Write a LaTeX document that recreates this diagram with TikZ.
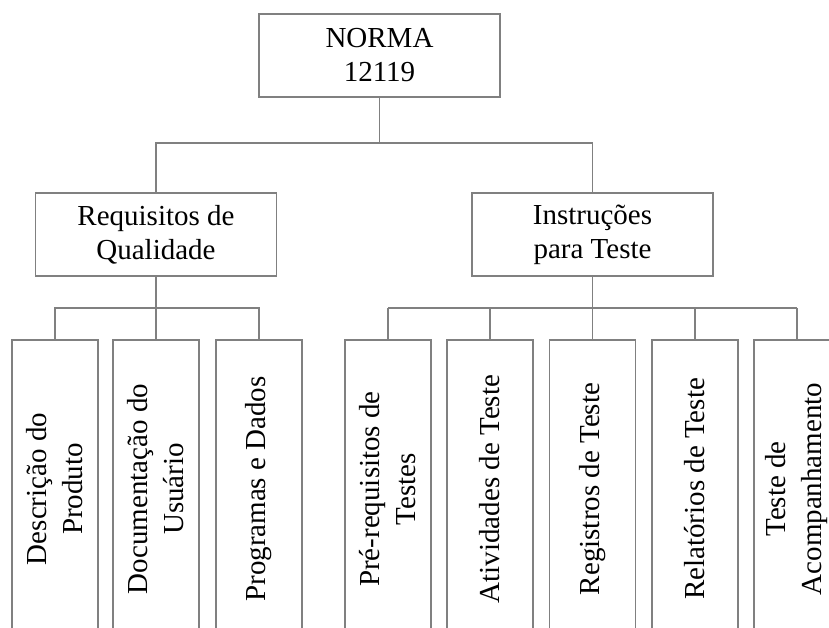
\documentclass[tikz,border=0pt]{standalone}
\usepackage{fontspec}
\setmainfont{Liberation Serif}
\definecolor{linha}{RGB}{128,128,128}
\tikzset{
    caixa/.style={draw=linha, line width=1.4pt, fill=white, minimum width=241pt, minimum height=83pt,
        inner sep=0pt, align=center, font=\fontsize{29}{34}\selectfont},
    folha/.style={draw=linha, line width=1.4pt, fill=white, rotate=90, minimum width=298pt, minimum height=86pt,
        inner sep=0pt, align=center, font=\fontsize{29}{36}\selectfont},
    liga/.style={draw=linha, line width=1.4pt}
}
\begin{document}
\begin{tikzpicture}[x=1pt,y=-1pt]
        \useasboundingbox (0,0) rectangle (829,628);
        \clip (0,0) rectangle (829,628);

        \node[caixa] (norma) at (379.5,55.5) {NORMA\\12119};
        \node[caixa] (req) at (156,234.5) {Requisitos de\\Qualidade};
        \node[caixa] (inst) at (592.5,234.5) {Instruções\\para Teste};

        \node[folha] (d1) at (55,489) {Descrição do\\Produto};
        \node[folha] (d2) at (156,489) {Documentação do\\Usuário};
        \node[folha] (d3) at (259,489) {Programas e Dados};

        \node[folha] (t1) at (388,489) {Pré-requisitos de\\Testes};
        \node[folha] (t2) at (490,489) {Atividades de Teste};
        \node[folha] (t3) at (592.5,489) {Registros de Teste};
        \node[folha] (t4) at (695,489) {Relatórios de Teste};
        \node[folha] (t5) at (797,489) {Teste de\\Acompanhamento};

        % barras de ligacao
        \coordinate (barraN) at (379.5,143);
        \coordinate (barraR) at (156,308);
        \coordinate (barraI) at (592.5,308);

        \draw[liga] (norma.south) -- (barraN);
        \draw[liga] (req.north) |- (barraN) -| (inst.north);

        \draw[liga] (req.south) -- (barraR);
        \draw[liga] (d1.east) |- (barraR) -| (d3.east);
        \draw[liga] (d2.east) -- (barraR);

        \draw[liga] (inst.south) -- (barraI);
        \draw[liga] (t1.east |- barraI) -- (t5.east |- barraI);
        \foreach \f in {t1,t2,t3,t4,t5}
            \draw[liga] (\f.east) -- (\f.east |- barraI);

    \end{tikzpicture}
\end{document}
